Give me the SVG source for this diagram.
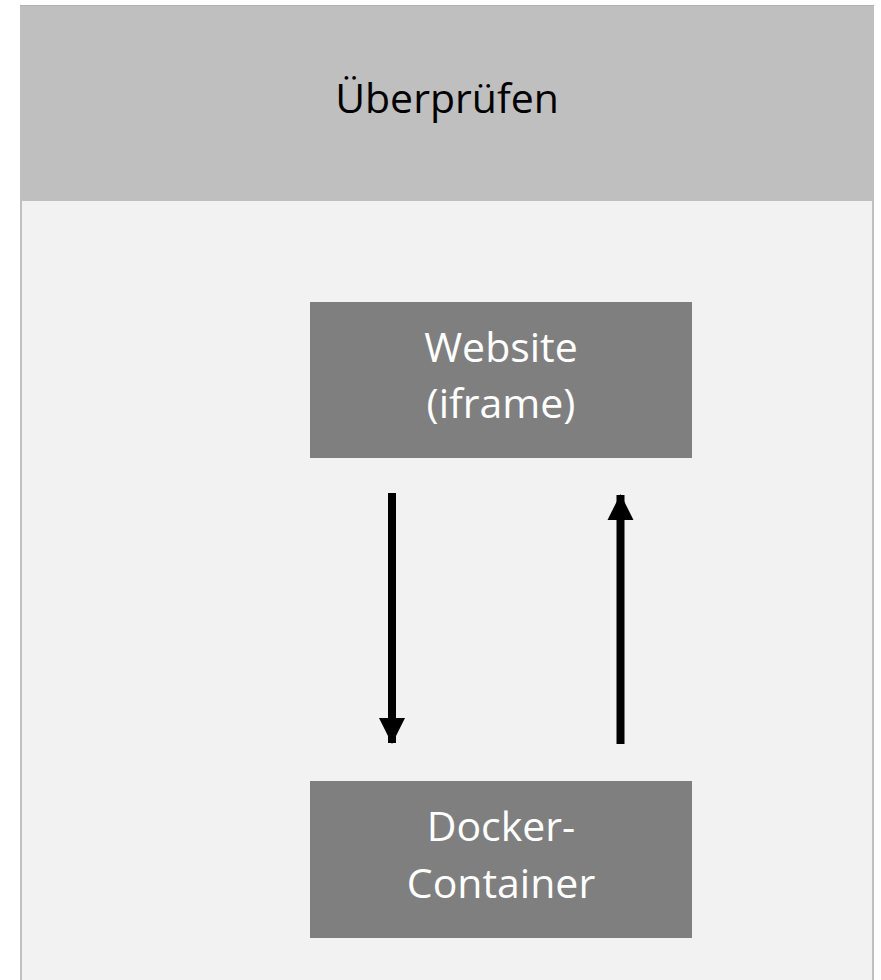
<svg xmlns="http://www.w3.org/2000/svg" width="881" height="980" viewBox="0 0 881 980">
  <style>
    .t { font-family: "Open Sans", "Noto Sans", sans-serif; font-size: 41px; text-anchor: middle; }
    .box { fill: #7f7f7f; }
    .wt { fill: #ffffff; }
    .conn { stroke: #000000; stroke-width: 8; fill: none; }
  </style>
  <defs>
    <marker id="ah" markerUnits="userSpaceOnUse" markerWidth="26" markerHeight="26" viewBox="0 0 26 26" refX="25" refY="13" orient="auto" overflow="visible">
      <path d="M0,0 L26,13 L0,26 Z" fill="#000000"/>
    </marker>
  </defs>
  <g id="panel">
    <rect x="21" y="6" width="852" height="980" fill="#f2f2f2" stroke="#c0c0c0" stroke-width="2"/>
    <rect x="21" y="6" width="852" height="195" fill="#bfbfbf"/>
    <line x1="20" y1="5.5" x2="874" y2="5.5" stroke="#b0b0b0" stroke-width="1"/>
    <text class="t" x="447" y="113" fill="#000000">Überprüfen</text>
  </g>
  <g id="website">
    <rect class="box" x="310" y="302" width="382" height="156"/>
    <text class="t wt" x="501" y="362">Website</text>
    <text class="t wt" x="501" y="418">(iframe)</text>
  </g>
  <g id="docker">
    <rect class="box" x="310" y="781" width="382" height="157"/>
    <text class="t wt" x="501" y="841">Docker-</text>
    <text class="t wt" x="501" y="898">Container</text>
  </g>
  <g id="connectors">
    <line class="conn" x1="392" y1="493" x2="392" y2="743" marker-end="url(#ah)"/>
    <line class="conn" x1="620.5" y1="744" x2="620.5" y2="495" marker-end="url(#ah)"/>
  </g>
</svg>
